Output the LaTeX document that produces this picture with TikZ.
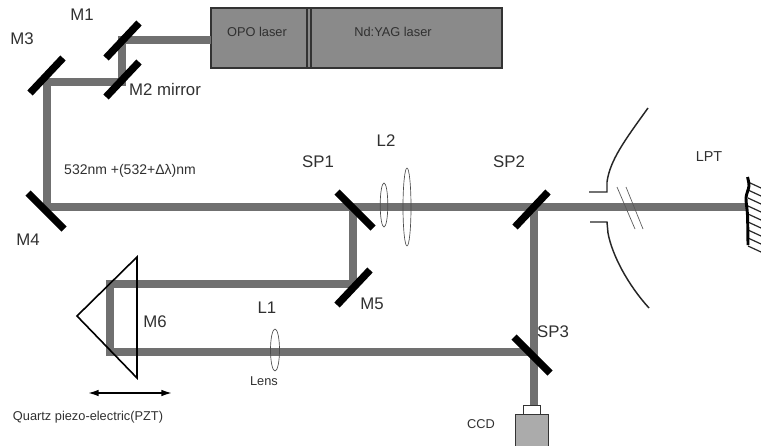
\documentclass[tikz,border=0pt]{standalone}
\usepackage{fontspec}
\setmainfont{Liberation Sans}
\usepackage{amsmath}
\usetikzlibrary{arrows}
\usetikzlibrary{arrows.meta}
\definecolor{beamgray}{HTML}{707070}
\definecolor{lasergray}{HTML}{8A8A8A}
\definecolor{ccdgray}{HTML}{ABABAB}
\definecolor{textgray}{HTML}{303030}
\tikzset{
    beam/.style={draw=beamgray, line width=6.6pt},
    mirror/.style={line width=5.5pt, black},
    lens/.style={draw=black!70, line width=0.5pt},
    chamber/.style={line width=1.1pt, black!85},
    lbl/.style={text=textgray, inner sep=0pt, font=\fontsize{12.6}{14}\selectfont},
    smalllbl/.style={text=textgray, inner sep=0pt, font=\fontsize{9.6}{12}\selectfont},
}
\begin{document}
\begin{tikzpicture}[x=0.75pt, y=-0.75pt]
        \useasboundingbox (0,0) rectangle (761,446);
        % laser box
        \draw[fill=lasergray, draw=black!80, line width=0.8pt] (211,8) rectangle (502,68);
        \draw[black!80, line width=0.8pt] (307,8) -- (307,68) (311,8) -- (311,68);
        \node[smalllbl] (opo) at (257,32) {OPO laser};
        \node[smalllbl] (yag) at (393,32) {Nd:YAG laser};
        \coordinate (opoout) at (211,40);
        % beam corners
        \coordinate (ma) at (122,40);
        \coordinate (mb) at (122,82);
        \coordinate (mc) at (47,82);
        \coordinate (md) at (47,207);
        \coordinate (sa) at (353,207);
        \coordinate (sb) at (534,207);
        \coordinate (target) at (748,207);
        \coordinate (me) at (353,284);
        \coordinate (mf) at (110,284);
        \coordinate (mg) at (110,352);
        \coordinate (sc) at (534,352);
        \coordinate (ccdin) at (534,405);
        % beams
        \draw[beam, line join=miter] (opoout) -- (ma) -- (mb) -- (mc) -- (md) -- (target);
        \draw[beam, line join=miter] (sa) -- (me) -- (mf) -- (mg) -- (sc);
        \draw[beam] (sb) -- (ccdin);
        % mirrors
        \foreach \p/\q in {106/58,106/97,30/93,515/227,337/305}{
            \draw[mirror] (\p,\q) -- ++(33,-35);
        }
        \foreach \p/\q in {28/193,337/192,514/337}{
            \draw[mirror] (\p,\q) -- ++(36,36);
        }
        % lenses
        \draw[lens] (384,205) ellipse (3.8 and 22);
        \draw[lens] (407,207) ellipse (4 and 39);
        \draw[lens] (275,350) ellipse (4.5 and 21);
        % chamber
        \draw[chamber] (589,192) -- (607,192) -- (607,182) .. controls (610,160) and (625,140) .. (648,108);
        \draw[chamber] (590,222) -- (607,222) -- (608,233) .. controls (612,255) and (628,285) .. (649,308);
        \draw[black!65, line width=0.5pt] (617,187) -- (635,229) (626,187) -- (643,229);
        % target
        \foreach \y in {182,190,...,246}{
            \draw[black!85, line width=0.9pt] (748,\y) -- (761,\y+6);
        }
        \draw[line width=2.2pt, black] plot[smooth] coordinates {(747.5,177) (749,186) (746,198) (747.5,215) (748,245)};
        % prism
        \draw[line width=1.2pt, black, line join=miter] (137,257) -- (77,316) -- (137,378) -- cycle;
        \coordinate (pzta) at (88,393);
        \coordinate (pztb) at (172,393);
        \draw[{Latex[length=8pt,width=5pt]}-{Latex[length=8pt,width=5pt]}, line width=1.2pt] (pzta) -- (pztb);
        % ccd
        \draw[fill=white, draw=black!80, line width=0.6pt] (523,405) rectangle (540,414);
        \draw[fill=ccdgray, draw=black!80, line width=0.7pt] (515,450) -- (515,414) -- (548,414) -- (548,450);
        % labels
        \node[lbl] (lbM1) at (82,15) {M1};
        \node[lbl] (lbM3) at (22,39) {M3};
        \node[lbl] (lbM2) at (165,89) {M2 mirror};
        \node[smalllbl, font=\fontsize{10.5}{12}\selectfont] (lbwave) at (130,171) {532nm +(532+Δλ)nm};
        \node[lbl] (lbSP1) at (318,162) {SP1};
        \node[lbl] (lbL2) at (386,141) {L2};
        \node[lbl] (lbSP2) at (509,162) {SP2};
        \node[smalllbl, font=\fontsize{10.8}{12}\selectfont] (lbLPT) at (709,157) {LPT};
        \node[lbl] (lbM4) at (28,240) {M4};
        \node[lbl] (lbM5) at (372,304) {M5};
        \node[lbl] (lbM6) at (155,322) {M6};
        \node[lbl] (lbL1) at (267,308) {L1};
        \node[smalllbl] (lbLens) at (264,381) {Lens};
        \node[lbl] (lbSP3) at (553,332) {SP3};
        \node[smalllbl] (lbCCD) at (481,424) {CCD};
        \node[smalllbl] (lbPZT) at (88,417) {Quartz piezo-electric(PZT)};
    \end{tikzpicture}
\end{document}
